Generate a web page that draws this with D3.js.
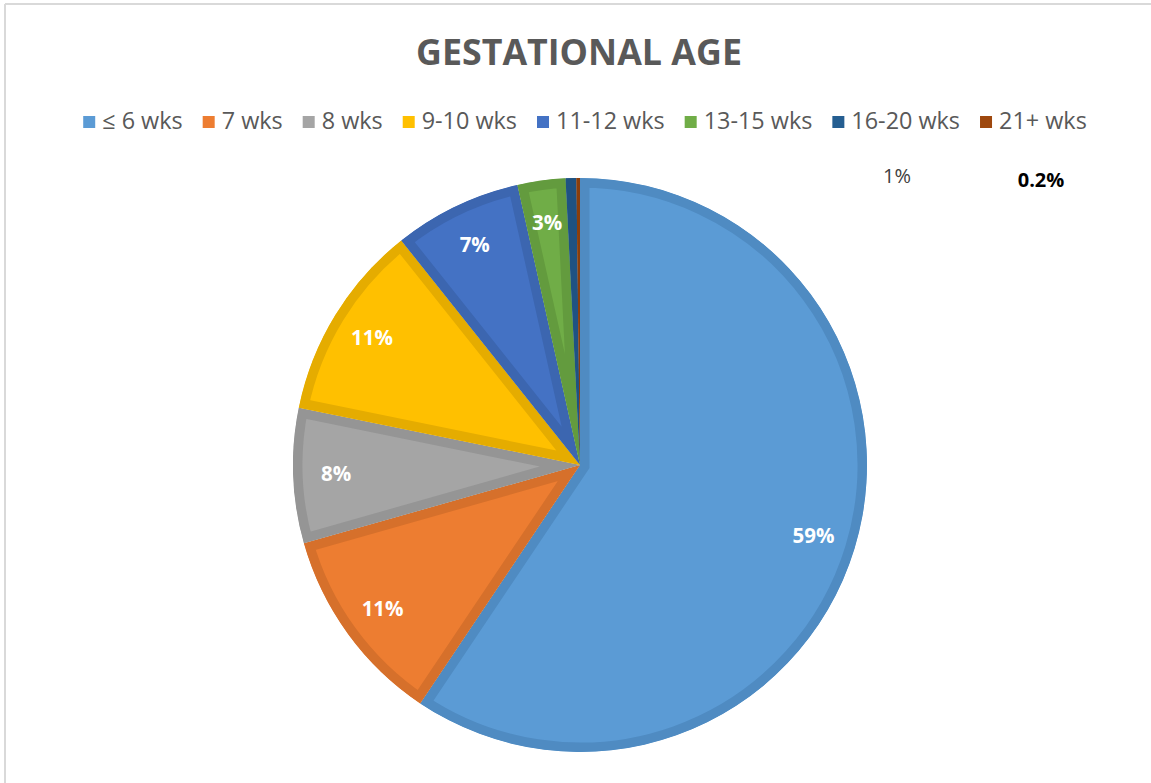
<!DOCTYPE html>
<html><head><meta charset="utf-8">
<script src="https://cdn.jsdelivr.net/npm/d3@7"></script>
<style>body{margin:0;background:#fff;}svg{display:block;font-family:"Open Sans",sans-serif;}</style>
</head><body>
<svg id="c" width="1151" height="783"></svg>
<script>
const categories = ["≤ 6 wks","7 wks","8 wks","9-10 wks","11-12 wks","13-15 wks","16-20 wks","21+ wks"];
const values = [59.4, 11.2, 7.6, 11.1, 7.2, 2.7, 0.6, 0.2];
const labels = ["59%","11%","8%","11%","7%","3%","1%","0.2%"];
const fills = ["#5B9BD5","#ED7D31","#A5A5A5","#FFC000","#4472C4","#70AD47","#255E91","#9E480E"];
const strokes = ["#4F8BC2","#D6702B","#959595","#E5AC00","#3C66B0","#639B3E","#1F5282","#8A3E0C"];

const svg = d3.select("#c");
// frame
svg.append("line").attr("x1",5).attr("x2",1151).attr("y1",4).attr("y2",4).attr("stroke","#d9d9d9").attr("stroke-width",2);
svg.append("line").attr("x1",5).attr("x2",5).attr("y1",4).attr("y2",783).attr("stroke","#d9d9d9").attr("stroke-width",2);

// title
const title = svg.append("text").attr("x",579).attr("y",65).attr("text-anchor","middle")
  .attr("font-weight","bold").attr("fill","#595959").attr("font-size",28).text("GESTATIONAL AGE");
const tw = title.node().getComputedTextLength();
title.attr("font-size", 28*326/tw);

// legend
const lg = svg.append("g");
const gap = 20, sw = 12, tx = 19;
function layoutLegend(f){
  lg.selectAll("*").remove();
  let x = 0, textW = 0;
  categories.forEach((c,i)=>{
    const g = lg.append("g").attr("transform",`translate(${x},0)`);
    g.append("rect").attr("x",0).attr("y",-6).attr("width",sw).attr("height",sw).attr("fill",fills[i]);
    const t = g.append("text").attr("x",tx).attr("y",7).attr("font-size",f).attr("fill","#595959").text(c);
    const w = t.node().getComputedTextLength();
    textW += w;
    x += tx + w + gap;
  });
  return {total: x - gap, textW};
}
let m = layoutLegend(20);
const fixedW = m.total - m.textW;
const fs = 20 * (1004 - fixedW) / m.textW;
m = layoutLegend(fs);
lg.attr("transform",`translate(${585 - m.total/2},122)`);

// pie
const cx = 580, cy = 465, R = 287;
const pie = d3.pie().sort(null).value(d=>d)(values);
const arc = d3.arc().innerRadius(0).outerRadius(R);
const labelArc = d3.arc().innerRadius(244).outerRadius(244);
const pg = svg.append("g").attr("transform",`translate(${cx},${cy})`);
const defs = svg.append("defs");
pie.forEach((p,i)=>{
  defs.append("clipPath").attr("id","cl"+i).append("path").attr("d",arc(p));
  pg.append("path").attr("d",arc(p)).attr("fill",fills[i]).attr("stroke",strokes[i])
    .attr("stroke-width",19).attr("stroke-linejoin","miter").attr("clip-path",`url(#cl${i})`);
});
// inside labels
pie.forEach((p,i)=>{
  if(i>=6) return;
  const [x,y] = labelArc.centroid(p);
  pg.append("text").attr("x",x).attr("y",y).attr("dy","0.35em").attr("text-anchor","middle")
    .attr("font-size",20.5).attr("font-weight","bold").attr("fill","#fff").text(labels[i]);
});
// outside labels
svg.append("text").attr("x",897).attr("y",183).attr("text-anchor","middle").attr("font-size",20)
  .attr("fill","#404040").text(labels[6]);
svg.append("text").attr("x",1041).attr("y",187).attr("text-anchor","middle").attr("font-size",20)
  .attr("font-weight","bold").attr("fill","#000").text(labels[7]);
</script>
</body></html>
